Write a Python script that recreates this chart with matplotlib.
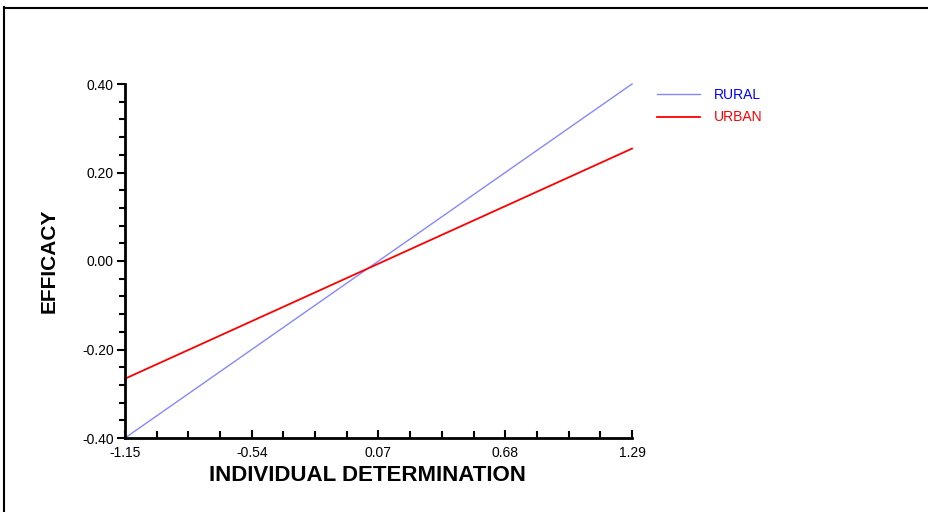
import matplotlib
matplotlib.use("Agg")
import matplotlib.pyplot as plt
from matplotlib.lines import Line2D
import numpy as np

plt.rcParams['font.family'] = ['Liberation Sans', 'DejaVu Sans']

x_ends = [-1.15, 1.29]
rural = [-0.40, 0.40]
urban = [-0.266, 0.254]
x_ticks = [-1.15, -0.54, 0.07, 0.68, 1.29]
x_labels = ["-1.15", "-0.54", "0.07", "0.68", "1.29"]
y_ticks = [-0.40, -0.20, 0.00, 0.20, 0.40]
y_labels = ["-0.40", "-0.20", "0.00", "0.20", "0.40"]

W, H = 929, 512
fig = plt.figure(figsize=(W / 100, H / 100), dpi=100)
ax = fig.add_axes([125 / W, 1 - 438 / H, (632 - 125) / W, (438 - 84) / H])

ax.plot(x_ends, rural, color=(0.53, 0.53, 1.0), lw=1.0, clip_on=False)
ax.plot(x_ends, urban, color=(1.0, 0.0, 0.0), lw=1.3, clip_on=False)

ax.set_xlim(x_ends[0], x_ends[1])
ax.set_ylim(-0.40, 0.40)
ax.set_xticks(x_ticks)
ax.set_xticklabels(x_labels)
ax.set_yticks(y_ticks)
ax.set_yticklabels(y_labels)
ax.set_xticks(np.arange(x_ticks[0], x_ticks[-1] + 1e-9, 0.61 / 4), minor=True)
ax.set_yticks(np.arange(-0.40, 0.40 + 1e-9, 0.04), minor=True)

for s in ['top', 'right']:
    ax.spines[s].set_visible(False)
for s in ['left', 'bottom']:
    ax.spines[s].set_linewidth(2.0)
    ax.spines[s].set_color('black')

ax.tick_params(axis='x', which='major', direction='in', length=6, width=1.5, labelsize=10, pad=6)
ax.tick_params(axis='x', which='minor', direction='in', length=5, width=1.5)
ax.tick_params(axis='y', which='major', direction='out', length=6, width=1.5, labelsize=10, pad=2)
ax.tick_params(axis='y', which='minor', direction='out', length=4, width=1.5)

ax.set_xlabel("INDIVIDUAL DETERMINATION", fontsize=16, fontweight='bold', labelpad=3)
ax.xaxis.set_label_coords((367 - 125) / 507, -0.075)
ax.xaxis.label.set_verticalalignment('top')
ax.set_ylabel("EFFICACY", fontsize=15, fontweight='bold', labelpad=17)

# legend drawn in figure coordinates
fig.add_artist(Line2D([657 / W, 700 / W], [1 - 94 / H, 1 - 94 / H], color=(0.53, 0.53, 1.0), lw=1.0))
fig.add_artist(Line2D([657 / W, 700 / W], [1 - 117 / H, 1 - 117 / H], color=(1.0, 0.0, 0.0), lw=1.3))
fig.text(714 / W, 1 - 95 / H, "RURAL", color=(0.0, 0.0, 1.0), fontsize=10, va='center')
fig.text(714 / W, 1 - 117 / H, "URBAN", color=(1.0, 0.0, 0.0), fontsize=10, va='center')

# frame lines (top and left)
fig.add_artist(Line2D([4 / W, 1.0], [1 - 7.5 / H, 1 - 7.5 / H], color='black', lw=1.5))
fig.add_artist(Line2D([4.5 / W, 4.5 / W], [0.0, 1 - 7 / H], color='black', lw=1.5))

fig.savefig("out.png", dpi=100)
